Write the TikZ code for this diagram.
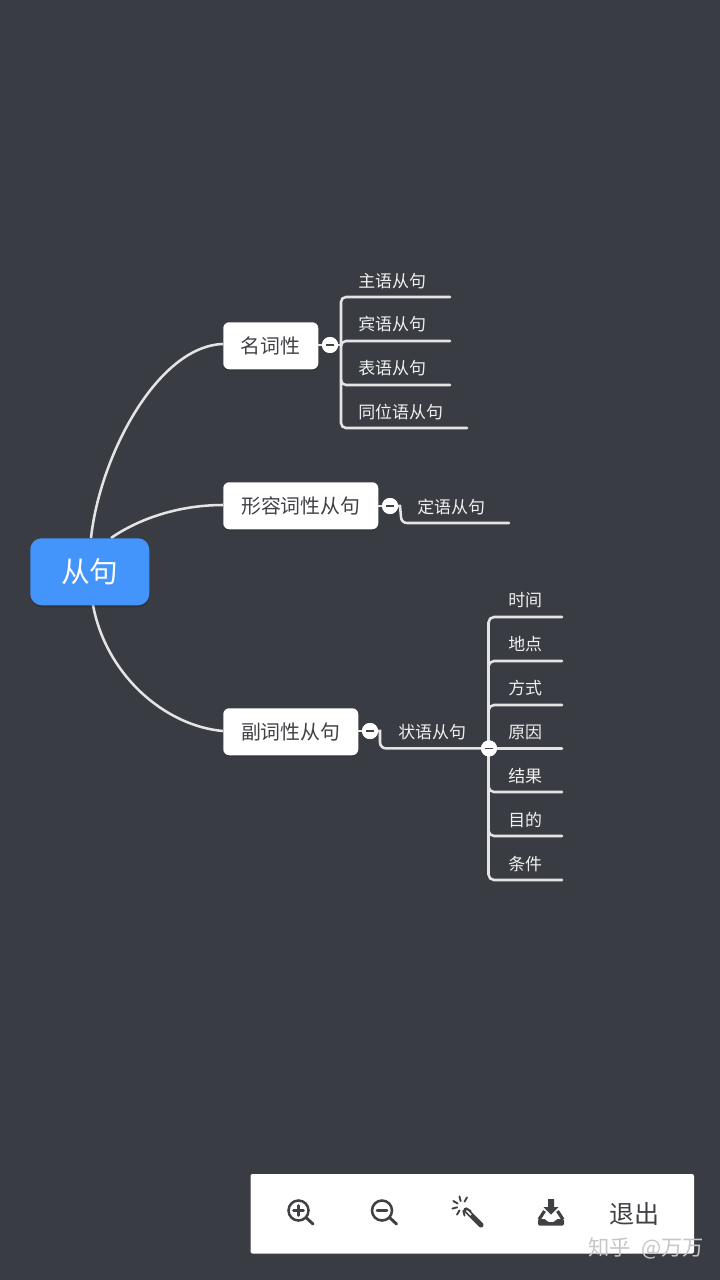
\documentclass[tikz,border=0pt]{standalone}
\usepackage{fontspec}
\setmainfont{Noto Sans CJK SC}[BoldFont={Noto Sans CJK SC}]
\usetikzlibrary{shadows,calc}
\definecolor{bgc}{HTML}{393C42}
\definecolor{rootc}{HTML}{4394FB}
\definecolor{linec}{HTML}{E4E4E4}
\definecolor{inkc}{HTML}{3F4145}
\definecolor{wmc}{HTML}{C6C6C6}
\newcommand{\lowertext}[1]{\raisebox{-1.5pt}{#1}}
\tikzset{
  x=0.75pt,y=-0.75pt,
  root/.style={fill=rootc,rounded corners=8.5pt,inner sep=0,anchor=north west,minimum width=89.25pt,minimum height=50.25pt,text=white,font=\fontsize{21.5pt}{24pt}\selectfont,drop shadow={shadow xshift=0pt,shadow yshift=-1.5pt,fill=black,opacity=.15}},
  mid/.style={fill=white,rounded corners=4.5pt,inner sep=0,anchor=north west,minimum height=35.25pt,text=inkc,font=\fontsize{14.9pt}{17pt}\selectfont,drop shadow={shadow xshift=0pt,shadow yshift=-1pt,fill=black,opacity=.2}},
  leaf/.style={text=white!94!black,inner sep=0,anchor=west,font=\fontsize{12.7pt}{15pt}\selectfont},
  conn/.style={draw=linec,line width=1.9pt,line cap=round},
  curve/.style={draw=linec,line width=1.9pt},
  toggle/.style={circle,fill=white,minimum size=12pt,inner sep=0},
  minusbar/.style={draw=inkc,line width=1pt},
  ico/.style={draw=inkc,line width=1.9pt,line cap=round},
}
\begin{document}
\begin{tikzpicture}
\useasboundingbox (0,0) rectangle (720,1280);
\fill[bgc] (0,0) rectangle (720,1280);

% free connector ends
\coordinate (a1) at (450,297); \coordinate (a2) at (450,341);
\coordinate (a3) at (450,385); \coordinate (a4) at (467,428);
\coordinate (b1) at (509,523);
\coordinate (c1) at (562,617); \coordinate (c2) at (562,661);
\coordinate (c3) at (562,705); \coordinate (c4) at (562,748.4);
\coordinate (c5) at (562,792); \coordinate (c6) at (562,836);
\coordinate (c7) at (562,880);
\coordinate (rt1) at (91,538); \coordinate (rt2) at (111,538); \coordinate (rt3) at (93,605);

% main curves
\coordinate (m1) at (223,344); \coordinate (m2) at (223,505); \coordinate (m3) at (223,731);
\draw[curve] (rt1) .. controls (100,455) and (158,346) .. (m1);
\draw[curve] (rt2) .. controls (140,518) and (180,505) .. (m2);
\draw[curve] (rt3) .. controls (106,675) and (165,726) .. (m3);

\node[root] (root) at (30,538) {从句};
\node[mid,minimum width=71.25pt] (n1) at (223,322) {\lowertext{名词性}};
\node[mid,minimum width=116.25pt] (n2) at (223,482) {\lowertext{形容词性从句}};
\node[mid,minimum width=101.25pt] (n3) at (223,708) {\lowertext{副词性从句}};

% toggles
\node[toggle] (t1) at (330,345) {};
\node[toggle] (t2) at (390,506) {};
\node[toggle] (t3) at (370,731) {};
\node[toggle] (t4) at (489,748.4) {};

% first group
\draw[conn] (n1.east |- t1) -- (t1);
\draw[conn] (t1) -- (341,345);
\draw[conn] (a1) -- (349,297) -- (346,297) arc[start angle=90,end angle=180,x radius=5,y radius=-5] -- (341,423) arc[start angle=180,end angle=270,x radius=5,y radius=-5] -- (a4);
\draw[conn] (a2) -- (349,341) -- (346,341) arc[start angle=90,end angle=180,x radius=5,y radius=-5];
\draw[conn] (a3) -- (346,385) arc[start angle=270,end angle=180,x radius=5,y radius=-5];

% second group
\draw[conn] (n2.east |- t2) -- (t2);
\draw[conn] (t2) -- (400,506) -- (401,517) arc[start angle=180,end angle=270,x radius=6,y radius=-6] -- (b1);

% third group
\draw[conn] (n3.east |- t3) -- (t3);
\draw[conn] (t3) -- (380,731) -- (380,742.4) arc[start angle=180,end angle=270,x radius=6,y radius=-6] -- (t4);
\draw[conn] (c1) -- (494,617) arc[start angle=90,end angle=180,x radius=5.5,y radius=-5.5] -- (488.5,874.5) arc[start angle=180,end angle=270,x radius=5.5,y radius=-5.5] -- (c7);
\draw[conn] (c2) -- (494,661) arc[start angle=90,end angle=180,x radius=5.5,y radius=-5.5];
\draw[conn] (c3) -- (494,705) arc[start angle=90,end angle=180,x radius=5.5,y radius=-5.5];
\draw[conn] (c4) -- (t4);
\draw[conn] (c5) -- (494,792) arc[start angle=270,end angle=180,x radius=5.5,y radius=-5.5];
\draw[conn] (c6) -- (494,836) arc[start angle=270,end angle=180,x radius=5.5,y radius=-5.5];

% toggle faces above the lines
\foreach \t in {t1,t2,t3,t4}{
  \fill[white] (\t) circle[radius=8];
  \draw[minusbar] ($(\t)+(-4,0)$) -- ($(\t)+(4,0)$);
}

% leaves
\node[leaf] (l1) at (358,281) {主语从句};
\node[leaf] (l2) at (358,324) {宾语从句};
\node[leaf] (l3) at (358,368) {表语从句};
\node[leaf] (l4) at (358,412) {同位语从句};
\node[leaf] (l5) at (417,507) {定语从句};
\node[leaf] (l6) at (398,732) {状语从句};
\node[leaf] (d1) at (508,600) {时间};
\node[leaf] (d2) at (508,644) {地点};
\node[leaf] (d3) at (508,688) {方式};
\node[leaf] (d4) at (508,732) {原因};
\node[leaf] (d5) at (508,776) {结果};
\node[leaf] (d6) at (508,820) {目的};
\node[leaf] (d7) at (508,864) {条件};

% toolbar
\fill[white,rounded corners=1.5pt] (250.5,1174) rectangle (694,1253.5);
% zoom in
\draw[ico] (298.5,1210.5) circle[radius=10];
\draw[ico,line width=2.2pt] (306.5,1218) -- (313,1224);
\draw[ico] (293.5,1210.5) -- (303.5,1210.5) (298.5,1205.5) -- (298.5,1215.5);
% zoom out
\draw[ico] (382,1210.5) circle[radius=10];
\draw[ico,line width=2.2pt] (390,1218) -- (396.5,1224);
\draw[ico] (377,1210.5) -- (387,1210.5);
% wand
\draw[ico,line width=3.8pt] (466,1210) -- (481,1225);
\draw[white,line width=1.2pt] (466.5,1210.5) -- (471,1215);
\foreach \a in {0,45,90,135,180,225,270}{
  \draw[ico,line width=1.4pt] ($(462,1206)+(\a+30:5)$) -- ($(462,1206)+(\a+30:10)$);
}
% download
\fill[inkc] (548,1199) -- (554,1199) -- (554,1207) -- (558.5,1207) -- (551,1214.5) -- (543.5,1207) -- (548,1207) -- cycle;
\draw[ico,line width=2.4pt,line cap=butt] (544.5,1211) -- (539,1219.5) (557.5,1211) -- (563,1219.5);
\fill[inkc,rounded corners=1pt] (538,1219) -- (545.5,1219) -- (547.5,1222) -- (554.5,1222) -- (556.5,1219) -- (564,1219) -- (564,1225.5) -- (538,1225.5) -- cycle;
\node[inner sep=0,text=inkc,font=\fontsize{18.8pt}{21pt}\selectfont] (quit) at (634.5,1214) {退出};

\node[inner sep=0,text=wmc,anchor=west,font=\fontsize{16pt}{18pt}\selectfont] (wm) at (588,1248) {知乎\hspace{0.25em} @万万};
\end{tikzpicture}
\end{document}
